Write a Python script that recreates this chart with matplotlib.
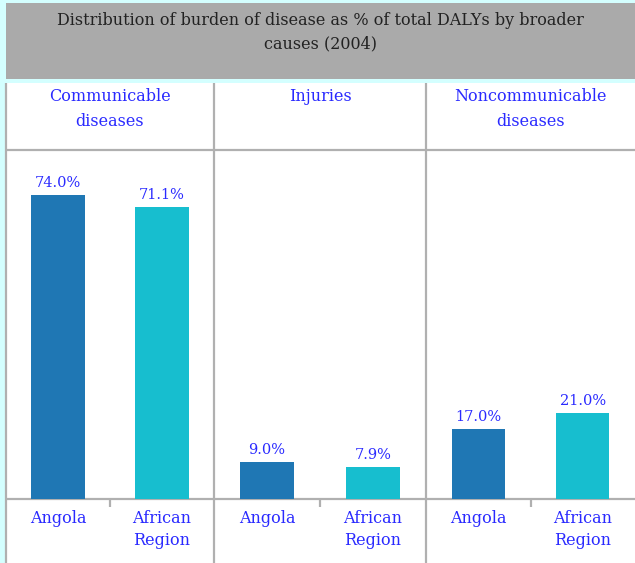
import matplotlib
matplotlib.use('Agg')
import matplotlib.pyplot as plt
from matplotlib.patches import Rectangle

# data
title = 'Distribution of burden of disease as % of total DALYs by broader\ncauses (2004)'
causes = ['Communicable\ndiseases', 'Injuries', 'Noncommunicable\ndiseases']
regions = ['Angola', 'African\nRegion']
angola = [74.0, 9.0, 17.0]
african = [71.1, 7.9, 21.0]
bar_colors = ['#1f77b4', '#17becf']

W, H = 635, 563
plt.rcParams['font.family'] = ['DejaVu Serif']
fig = plt.figure(figsize=(W / 100, H / 100), dpi=100)
fig.patch.set_facecolor('#d4ffff')


def px_axes(x0, y0, x1, y1):
    # pixel box (top-left origin) -> figure axes
    return fig.add_axes([x0 / W, 1 - y1 / H, (x1 - x0) / W, (y1 - y0) / H])


# background layer in pixel coords
bg = px_axes(0, 0, W, H)
bg.set_xlim(0, W)
bg.set_ylim(H, 0)
bg.axis('off')
bg.add_patch(Rectangle((6, 3), W - 6, 76, facecolor='#aaaaaa', edgecolor='none'))
bg.add_patch(Rectangle((6, 83), W - 6, H - 83, facecolor='white', edgecolor='none'))
bg.text(320, 32, title, ha='center', va='center', fontsize=11.5, color='#222222',
        linespacing=1.5)

line_c = '#b0b0b0'
cols = [6, 214, 426, W]
for x in cols[:-1]:
    bg.plot([x, x], [83, H], color=line_c, lw=1.6, solid_capstyle='butt')
for y in [150, 499]:
    bg.plot([6, W], [y, y], color=line_c, lw=1.6, solid_capstyle='butt')

text_c = '#2a2aff'
for i, cause in enumerate(causes):
    cx = (cols[i] + cols[i + 1]) / 2
    bg.text(cx, 88, cause, ha='center', va='top', fontsize=11.5, color=text_c,
            linespacing=1.6)
    # small tick between the two bars
    bg.plot([cx, cx], [499, 507], color=line_c, lw=1.6, solid_capstyle='butt')

ymax = 349 / 4.11
for i in range(len(causes)):
    ax = px_axes(cols[i], 150, cols[i + 1], 499)
    ax.patch.set_alpha(0)
    vals = [angola[i], african[i]]
    ax.bar([0, 1], vals, width=0.51, color=bar_colors)
    for j, v in enumerate(vals):
        ax.annotate('%.1f%%' % v, (j, v), xytext=(0, 3.5), textcoords='offset points',
                    ha='center', va='bottom', fontsize=10.5, color=text_c)
    ax.set_xlim(-0.5, 1.5)
    ax.set_ylim(0, ymax)
    ax.axis('off')

    # region labels under each bar
    lab = px_axes(cols[i], 499, cols[i + 1], H)
    lab.set_xlim(-0.5, 1.5)
    lab.set_ylim(H - 499, 0)
    lab.axis('off')
    for j, r in enumerate(regions):
        lab.text(j, 11, r, ha='center', va='top', fontsize=11.5, color=text_c,
                 linespacing=1.4)

fig.savefig('out.png', dpi=100, facecolor=fig.get_facecolor())
